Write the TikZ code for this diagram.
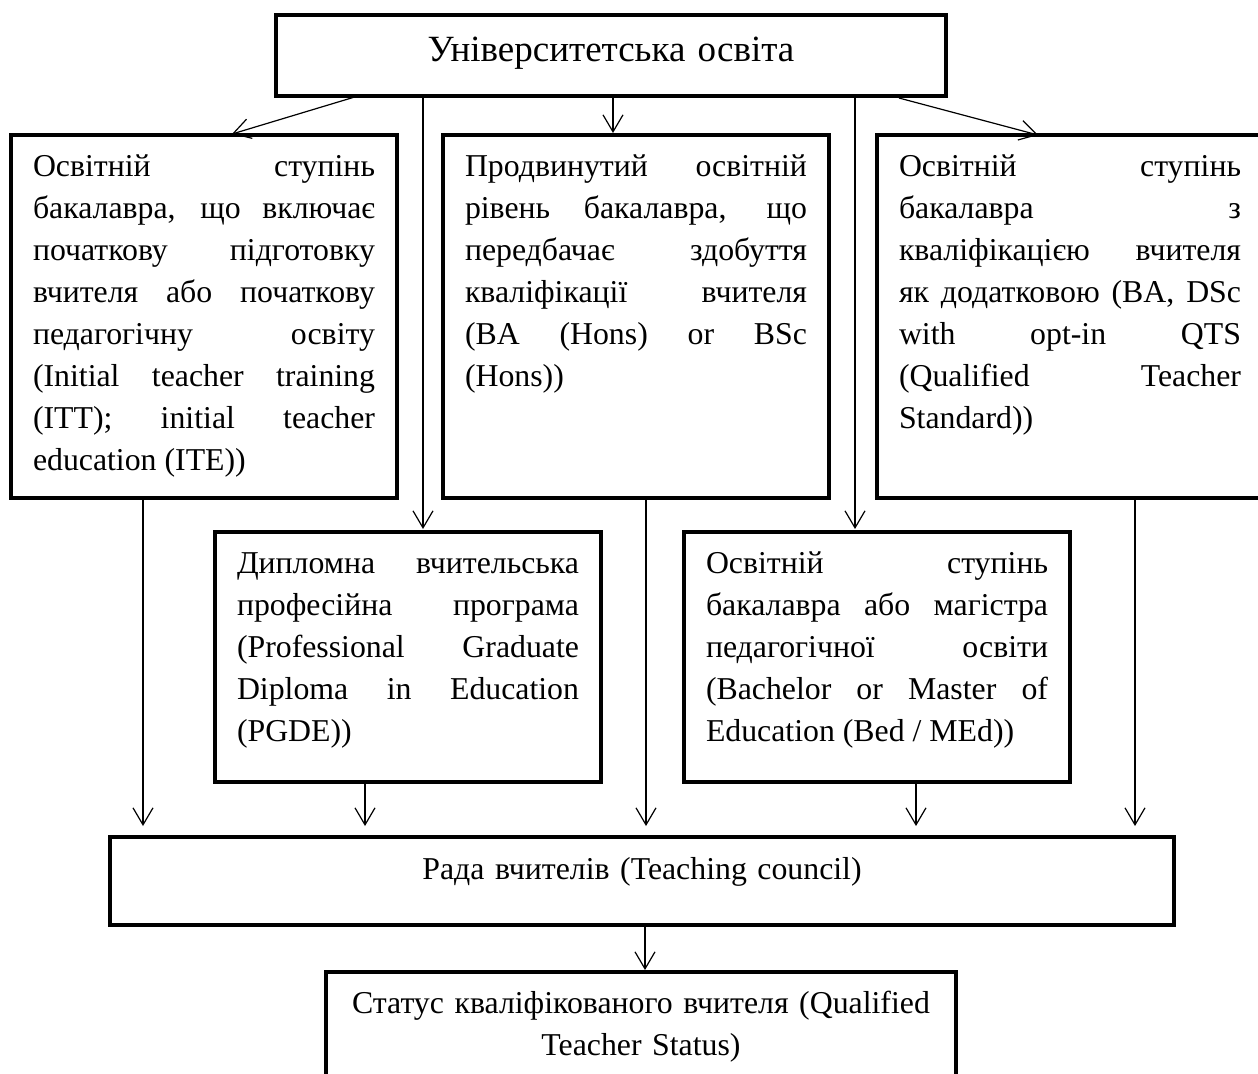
\documentclass[tikz,border=0pt]{standalone}
\usepackage{fontspec}
\setmainfont{Liberation Serif}
\usetikzlibrary{arrows.meta,calc}

% body text of the boxes: justified, no hyphenation
\newcommand\diagfont{\fontsize{15.9pt}{21pt}\selectfont\parindent=0pt\tolerance=10000\hbadness=10000\hfuzz=3pt\hyphenpenalty=10000\relax}
\newcommand\titlefont{\fontsize{18.5pt}{24pt}\selectfont}

\tikzset{
  frame/.style={draw, line width=2pt, rectangle, anchor=north west, outer sep=0pt, inner ysep=0pt},
  textbox/.style={frame, inner xsep=11pt, align=justify, font=\diagfont, text width=171pt, text height=20.5pt},
  tallbox/.style={textbox, text depth=161pt},
  lowbox/.style={textbox, text depth=104.5pt},
  arr/.style={line width=0.6pt, -{Straight Barb[length=8.5pt,width=10pt,line width=0.6pt]}},
}

\begin{document}
\begin{tikzpicture}[x=0.5pt,y=-0.5pt]
\useasboundingbox (0,0) rectangle (1258,1073);

% top level
\node[frame, inner xsep=0pt, align=center, font=\titlefont, text width=335pt, text height=23pt, text depth=17.5pt] (top) at (276,15) {Університетська освіта};

% first row of programmes
\node[tallbox] (l1) at (11,135) {Освітній ступінь\linebreak
бакалавра, що включає\linebreak
початкову підготовку\linebreak
вчителя або початкову\linebreak
педагогічну освіту\linebreak
(Initial teacher training\linebreak
(ITT); initial teacher\linebreak
education (ITE))};

\node[tallbox] (m1) at (443,135) {Продвинутий освітній\linebreak
рівень бакалавра, що\linebreak
передбачає здобуття\linebreak
кваліфікації вчителя\linebreak
(BA (Hons) or BSc\linebreak
(Hons))};

\node[tallbox] (r1) at (877,135) {Освітній ступінь\linebreak
бакалавра з\linebreak
кваліфікацією вчителя\linebreak
як додатковою (BA, DSc\linebreak
with opt-in QTS\linebreak
(Qualified Teacher\linebreak
Standard))};

% second row of programmes
\node[lowbox] (l2) at (215,532) {Дипломна вчительська\linebreak
професійна програма\linebreak
(Professional Graduate\linebreak
Diploma in Education\linebreak
(PGDE))};

\node[lowbox] (r2) at (684,532) {Освітній ступінь\linebreak
бакалавра або магістра\linebreak
педагогічної освіти\linebreak
(Bachelor or Master of\linebreak
Education (Bed / MEd))};

% council and resulting status
\node[frame, inner xsep=0pt, align=center, font=\diagfont, text width=532pt, text height=21pt, text depth=23pt] (council) at (110,837) {Рада вчителів (Teaching council)};

\node[frame, inner xsep=11pt, align=center, font=\diagfont, text width=293pt, text height=20.5pt, text depth=38.5pt] (status) at (326,972) {Статус кваліфікованого вчителя (Qualified\\ Teacher Status)};

% connectors from the top box
\draw[arr] ($(top.south west)+(82,0)$) -- ($(l1.north west)+(221,-1)$);
\draw[arr] ($(top.south west)+(147,0)$) -- ($(l2.north west)+(208,-3)$);
\draw[arr] ($(top.south west)+(337,0)$) -- ($(m1.north west)+(170,-2)$);
\draw[arr] ($(top.south west)+(579,0)$) -- ($(r2.north west)+(171,-3)$);
\draw[arr] ($(top.south west)+(623,2)$) -- ($(r1.north west)+(161,0)$);

% connectors into the council
\draw[arr] ($(l1.south west)+(132,0)$) -- ($(council.north west)+(33,-11)$);
\draw[arr] ($(l2.south west)+(150,0)$) -- ($(council.north west)+(255,-11)$);
\draw[arr] ($(m1.south west)+(203,0)$) -- ($(council.north west)+(536,-11)$);
\draw[arr] ($(r2.south west)+(232,0)$) -- ($(council.north west)+(806,-11)$);
\draw[arr] ($(r1.south west)+(258,0)$) -- ($(council.north west)+(1025,-11)$);

% council to status
\draw[arr] ($(council.south west)+(535,0)$) -- ($(status.north west)+(319,-2)$);
\end{tikzpicture}
\end{document}
